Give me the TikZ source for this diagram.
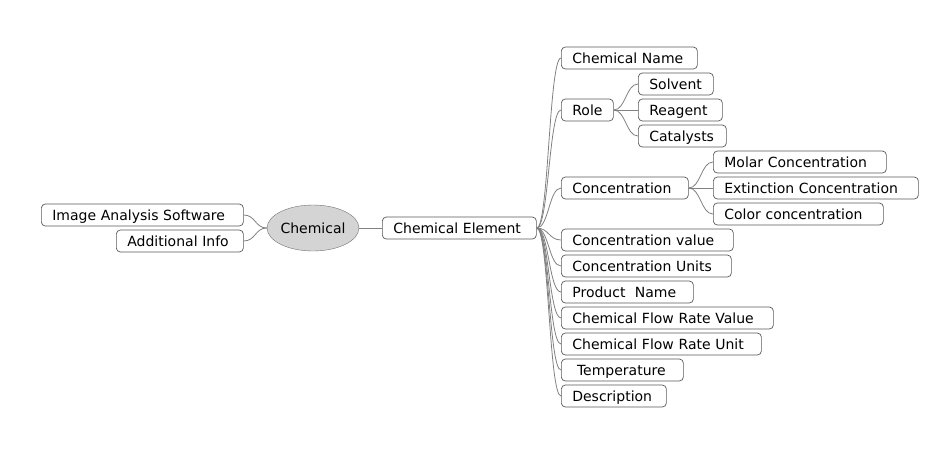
\documentclass[tikz,border=0pt]{standalone}
\usepackage{fontspec}
\setmainfont{DejaVu Sans}
\usetikzlibrary{positioning, shapes.geometric}

\begin{document}
\begin{tikzpicture}[x=1pt, y=-1pt, font=\fontsize{14}{16}\selectfont,
    topic/.style={ellipse, draw=black!55, fill=black!17, minimum width=91pt, minimum height=46pt, inner sep=0pt, text height=12pt, text depth=2pt},
    leaf/.style={rectangle, draw=black!65, line width=0.7pt, rounded corners=4pt, minimum height=22pt, inner xsep=11pt, inner ysep=0pt, text height=13pt, text depth=3pt, align=left, anchor=west},
    link/.style={draw=black!50, line width=0.8pt, out=0, in=180, out distance=12pt, in distance=12pt},
    backlink/.style={draw=black!50, line width=0.8pt, out=180, in=0, out distance=12pt, in distance=12pt}]

    \useasboundingbox (0,0) rectangle (939,475);

    % root and left side
    \node [topic] (chem) at (313,228) {Chemical};
    \node [leaf, text width=180pt] (software) at (41,215) {Image Analysis Software};
    \node [leaf, text width=105pt] (info) at (116,241) {Additional Info};

    % first level right
    \node [leaf, text width=132pt] (element) at (382,228) {Chemical Element};

    % second level
    \node [leaf, text width=114pt] (name) at (561,58) {Chemical Name};
    \node [leaf, text width=30pt] (role) at (561,110) {Role};
    \node [leaf, text width=105pt] (conc) at (561,188) {Concentration};
    \node [leaf, text width=150pt] (value) at (561,240) {Concentration value};
    \node [leaf, text width=148pt] (units) at (561,266) {Concentration Units};
    \node [leaf, text width=110pt] (product) at (561,292) {Product\ \ Name};
    \node [leaf, text width=190pt] (rate) at (561,318) {Chemical Flow Rate Value};
    \node [leaf, text width=178pt] (unit) at (561,344) {Chemical Flow Rate Unit};
    \node [leaf, text width=100pt] (temp) at (561,370) {\ Temperature};
    \node [leaf, text width=83pt] (desc) at (561,396) {Description};

    % third level
    \node [leaf, text width=53pt] (solvent) at (638,84) {Solvent};
    \node [leaf, text width=62pt] (reagent) at (638,110) {Reagent};
    \node [leaf, text width=66pt] (catalyst) at (638,136) {Catalysts};
    \node [leaf, text width=151pt] (molar) at (713,162) {Molar Concentration};
    \node [leaf, text width=183pt] (extinct) at (713,188) {Extinction Concentration};
    \node [leaf, text width=148pt] (color) at (713,214) {Color concentration};

    \draw [backlink] (chem.west) to (software.east);
    \draw [backlink] (chem.west) to (info.east);
    \draw [link] (chem.east) to (element.west);

    \foreach \child in {name, role, conc, value, units, product, rate, unit, temp, desc}
        \draw [link] (element.east) to (\child.west);
    \foreach \child in {solvent, reagent, catalyst}
        \draw [link] (role.east) to (\child.west);
    \foreach \child in {molar, extinct, color}
        \draw [link] (conc.east) to (\child.west);

\end{tikzpicture}
\end{document}
